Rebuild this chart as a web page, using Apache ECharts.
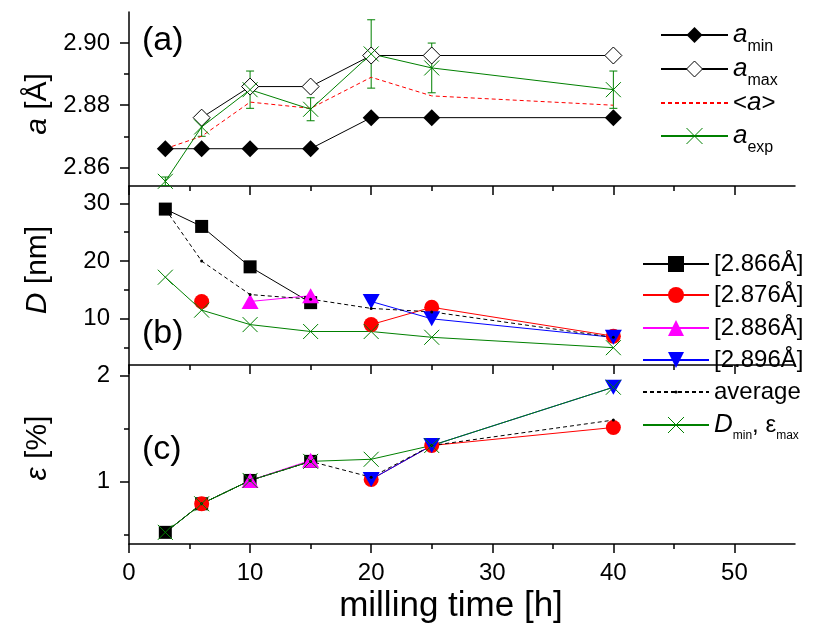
<!DOCTYPE html>
<html>
<head>
<meta charset="utf-8">
<script src="https://cdn.jsdelivr.net/npm/echarts@6/dist/echarts.min.js"></script>
<style>
  html, body { margin: 0; padding: 0; background: #fff; }
  #chart { width: 816px; height: 627px; }
</style>
</head>
<body>
<div id="chart"></div>
<script>
// milling time [h]
const hours = [3, 6, 10, 15, 20, 25, 40];

// (a) lattice parameter [Å]
const aMin = [2.866, 2.866, 2.866, 2.866, 2.876, 2.876, 2.876];
const aMax = [null, 2.876, 2.886, 2.886, 2.896, 2.896, 2.896];
const aAvg = [2.866, 2.870, 2.881, 2.879, 2.889, 2.883, 2.880];
const aExp = [2.8555, 2.873, 2.885, 2.8787, 2.8965, 2.892, 2.885];
const aExpErr = [0.0014, 0.003, 0.006, 0.0037, 0.011, 0.008, 0.006];

// (b) crystallite size D [nm] per phase
const d2866 = [29, 26, 19, 12.8, null, null, null];
const d2876 = [null, 13, null, null, 9, 12, 7];
const d2886 = [null, null, 13, 14, null, null, null];
const d2896 = [null, null, null, null, 13, 10, 6.8];
const dAvg = [29, 20, 14.2, 13.4, 11.8, 11.2, 6.8];
const dMin = [17.2, 11.5, 9, 7.8, 7.8, 6.8, 5];

// (c) microstrain ε [%] per phase
const e2866 = [0.52, 0.79, 1.01, 1.19, null, null, null];
const e2876 = [null, 0.79, null, null, 1.02, 1.34, 1.51];
const e2886 = [null, null, 1.01, 1.20, null, null, null];
const e2896 = [null, null, null, null, 1.02, 1.34, 1.89];
const eAvg = [0.52, 0.79, 1.01, 1.19, 1.04, 1.34, 1.58];
const eMax = [0.52, 0.79, 1.01, 1.19, 1.21, 1.34, 1.89];

// tick labels
const xMajor = [0, 10, 20, 30, 40, 50];
const xMinor = [5, 15, 25, 35, 45];
const aMajor = [2.86, 2.88, 2.90];
const aMinor = [2.87, 2.89];
const dMajor = [10, 20, 30];
const dMinor = [5, 15, 25];
const eMajor = [1, 2];
const eMinor = [0.5, 1.5];

const FONT = "Liberation Sans";
const GREEN = "#008000";
const X_SYMBOL = "path://M0,0L10,10M10,0L0,10";
const DOWN_TRI = "path://M0,0L10,0L5,9Z";

const chart = echarts.init(document.getElementById("chart"));

const axisLineStyle = { color: "#000", width: 1.5 };

function mainX(gi, withLabels) {
    return {
        type: "value", gridIndex: gi, min: 0, max: 55, position: "bottom",
        axisLine: { show: true, onZero: false, lineStyle: axisLineStyle },
        axisTick: { show: true, customValues: xMajor, length: 9, lineStyle: axisLineStyle },
        axisLabel: {
            show: withLabels, customValues: xMajor, margin: 17,
            color: "#000", fontSize: 24, fontFamily: FONT,
        },
        splitLine: { show: false },
    };
}

function minorX(gi) {
    return {
        type: "value", gridIndex: gi, min: 0, max: 55, position: "bottom",
        axisLine: { show: false, onZero: false },
        axisTick: { show: true, customValues: xMinor, length: 5, lineStyle: axisLineStyle },
        axisLabel: { show: false },
        splitLine: { show: false },
    };
}

function mainY(gi, min, max, major, fmt) {
    return {
        type: "value", gridIndex: gi, min, max, position: "left",
        axisLine: { show: true, onZero: false, lineStyle: axisLineStyle },
        axisTick: { show: true, customValues: major, length: 9, lineStyle: axisLineStyle },
        axisLabel: {
            customValues: major, margin: 19, color: "#000",
            fontSize: 24, fontFamily: FONT, formatter: fmt,
        },
        splitLine: { show: false },
    };
}

function minorY(gi, min, max, minor) {
    return {
        type: "value", gridIndex: gi, min, max, position: "left",
        axisLine: { show: false, onZero: false },
        axisTick: { show: true, customValues: minor, length: 5, lineStyle: axisLineStyle },
        axisLabel: { show: false },
        splitLine: { show: false },
    };
}

function pts(values) {
    return hours.map((h, i) => [h, values[i] == null ? "-" : values[i]]);
}

function line(name, gi, values, color, symbol, size, extra) {
    return Object.assign({
        type: "line", name, xAxisIndex: gi, yAxisIndex: gi,
        data: pts(values), symbol, symbolSize: size,
        connectNulls: false,
        lineStyle: { color, width: 1 },
        itemStyle: { color },
    }, extra || {});
}

function crossLine(name, gi, values) {
    return line(name, gi, values, GREEN, X_SYMBOL, 15, {
        itemStyle: { color: "rgba(0,0,0,0)", borderColor: GREEN, borderWidth: 1 },
    });
}

const errorBars = {
    type: "custom", name: "aexpErr", xAxisIndex: 0, yAxisIndex: 0, clip: true,
    data: hours.map((h, i) => [h, aExp[i], aExpErr[i]]),
    encode: { x: 0, y: 1 },
    renderItem(params, api) {
        const x = api.value(0), y = api.value(1), e = api.value(2);
        const top = api.coord([x, y + e]);
        const bot = api.coord([x, y - e]);
        const w = 4;
        const st = { stroke: GREEN, lineWidth: 1 };
        return {
            type: "group",
            children: [
                { type: "line", shape: { x1: top[0], y1: top[1], x2: bot[0], y2: bot[1] }, style: st },
                { type: "line", shape: { x1: top[0] - w, y1: top[1], x2: top[0] + w, y2: top[1] }, style: st },
                { type: "line", shape: { x1: bot[0] - w, y1: bot[1], x2: bot[0] + w, y2: bot[1] }, style: st },
            ],
        };
    },
};

const legendNames = {
    amin: "{i|a}{sub|min}",
    amax: "{i|a}{sub|max}",
    aavg: "<{i|a}>",
    aexp: "{i|a}{sub|exp}",
    p2866: "[2.866Å]",
    p2876: "[2.876Å]",
    p2886: "[2.886Å]",
    p2896: "[2.896Å]",
    avg: "average",
    dmin: "{i|D}{sub|min}, ε{sub|max}",
};

// one legend box per entry, so each row sits exactly where the reference has it
function legendItem(name, left, centerY, itemWidth, itemHeight, mainSize, subSize, subShift) {
    const item = { name, itemStyle: { borderWidth: 1 } };
    if (name === "aavg") item.itemStyle = { color: "rgba(0,0,0,0)", borderWidth: 0 };
    return {
        orient: "vertical", left, top: centerY - 10, itemWidth, itemHeight,
        padding: 0, selectedMode: false,
        data: [item],
        formatter: (n) => legendNames[n],
        textStyle: {
            color: "#000", fontSize: mainSize, fontFamily: FONT, lineHeight: 20,
            rich: {
                i: { fontStyle: "italic", fontSize: mainSize + 2, fontFamily: FONT, color: "#000", lineHeight: 20 },
                sub: {
                    fontSize: subSize, fontFamily: FONT, color: "#000", lineHeight: 20,
                    padding: [subShift, 0, -subShift, 0],
                },
            },
        },
    };
}

const legendA = [["amin", 32], ["amax", 66], ["aavg", 100], ["aexp", 133]];
const legendB = [["p2866", 262], ["p2876", 293], ["p2886", 326], ["p2896", 358], ["avg", 390], ["dmin", 422]];

function yTitle(text, x, y) {
    return {
        type: "text", x, y, rotation: Math.PI / 2,
        style: {
            text, fontSize: 30, fontFamily: FONT, fill: "#000",
            align: "center", verticalAlign: "middle",
            rich: { i: { fontStyle: "italic", fontSize: 30, fontFamily: FONT, fill: "#000", color: "#000" } },
        },
    };
}

function panelLabel(text, top) {
    return {
        type: "text", left: 142, top,
        style: { text, fontSize: 34, fontFamily: FONT, fill: "#000" },
    };
}

const option = {
    animation: false,
    backgroundColor: "#fff",
    grid: [
        { left: 129, right: 21, top: 12, height: 174 },
        { left: 129, right: 21, top: 186, height: 179 },
        { left: 129, right: 21, top: 365, height: 179 },
    ],
    xAxis: [mainX(0, false), mainX(1, false), mainX(2, true), minorX(0), minorX(1), minorX(2)],
    yAxis: [
        mainY(0, 2.854, 2.910, aMajor, (v) => v.toFixed(2)),
        mainY(1, 2, 33, dMajor, (v) => String(v)),
        mainY(2, 0.41, 2.10, eMajor, (v) => String(v)),
        minorY(0, 2.854, 2.910, aMinor),
        minorY(1, 2, 33, dMinor),
        minorY(2, 0.41, 2.10, eMinor),
    ],
    legend: [
        ...legendA.map(([n, y]) => legendItem(n, 660, y, 67, 20, 24, 16, 12)),
        ...legendB.map(([n, y]) => legendItem(n, 642, y, 66, n === "avg" ? 4 : 20, 24, 12, 11)),
    ],
    graphic: [
        panelLabel("(a)", 24),
        panelLabel("(b)", 317),
        panelLabel("(c)", 433),
        yTitle("{i|a} [Å]", 38, 104),
        yTitle("{i|D} [nm]", 38, 270),
        yTitle("{i|ε} [%]", 38, 448),
        {
            type: "text", x: 451, y: 606,
            style: {
                text: "milling time [h]", fontSize: 35, fontFamily: FONT, fill: "#000",
                align: "center", verticalAlign: "middle",
            },
        },
    ],
    series: [
        // (a)
        line("amin", 0, aMin, "#000", "diamond", 17),
        line("amax", 0, aMax, "#000", "diamond", 17, {
            itemStyle: { color: "#fff", borderColor: "#000", borderWidth: 1 },
        }),
        line("aavg", 0, aAvg, "#ff0000", "circle", 0, {
            lineStyle: { color: "#ff0000", width: 1, type: [4, 3] },
        }),
        errorBars,
        crossLine("aexp", 0, aExp),
        // (b)
        line("p2866", 1, d2866, "#000", "rect", 13),
        line("p2876", 1, d2876, "#ff0000", "circle", 15),
        line("p2886", 1, d2886, "#ff00ff", "triangle", [17, 15]),
        line("p2896", 1, d2896, "#0000ff", DOWN_TRI, [17, 15]),
        line("avg", 1, dAvg, "#000", "circle", 3, {
            lineStyle: { color: "#000", width: 1, type: [4, 3] },
        }),
        crossLine("dmin", 1, dMin),
        // (c)
        line("p2866", 2, e2866, "#000", "rect", 13),
        line("p2876", 2, e2876, "#ff0000", "circle", 15),
        line("p2886", 2, e2886, "#ff00ff", "triangle", [17, 15]),
        line("p2896", 2, e2896, "#0000ff", DOWN_TRI, [17, 15]),
        line("avg", 2, eAvg, "#000", "circle", 3, {
            lineStyle: { color: "#000", width: 1, type: [4, 3] },
        }),
        crossLine("dmin", 2, eMax),
    ],
};

chart.setOption(option);
</script>
</body>
</html>
